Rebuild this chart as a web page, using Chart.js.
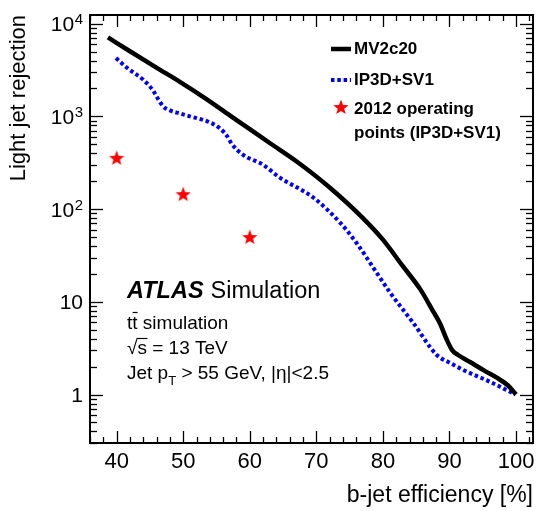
<!DOCTYPE html>
<html>
<head>
<meta charset="utf-8">
<script src="https://cdn.jsdelivr.net/npm/chart.js@4.4.1/dist/chart.umd.min.js"></script>
<style>
  html, body { margin: 0; padding: 0; background: #fff; }
  #wrap { width: 536px; height: 511px; }
</style>
</head>
<body>
<div id="wrap"><canvas id="c" width="536" height="511"></canvas></div>
<script>
// ---- data ----
const mv2c20Eff = [38.7, 42.0, 46.1, 49.5, 53.6, 57.0, 60.0, 63.0, 67.1, 72.0, 77.0, 80.0, 83.0, 85.6, 87.5, 88.6, 89.5, 90.4, 91.3, 93.1, 95.3, 97.1, 98.8, 100.0];
const mv2c20Rej = [7100, 5040, 3320, 2360, 1520, 1025, 728, 516, 324, 171, 80, 46.8, 24.2, 13.7, 8.0, 5.8, 4.04, 3.01, 2.67, 2.24, 1.80, 1.52, 1.25, 1.0];

const ip3dEff = [39.9, 41.6, 44.0, 45.5, 46.2, 47.0, 48.0, 49.5, 51.0, 53.6, 55.5, 56.6, 57.3, 59.0, 62.0, 64.5, 69.5, 73.6, 76.1, 79.1, 81.1, 84.5, 88.1, 90.1, 92.0, 96.1, 99.9];
const ip3dRej = [4250, 3320, 2480, 1890, 1550, 1280, 1160, 1075, 1000, 885, 745, 612, 504, 385, 301, 219, 134, 71, 42.5, 20.4, 12.5, 6.0, 2.67, 2.19, 1.85, 1.37, 1.0];

const opPointEff = [40, 50, 60];
const opPointRej = [357, 145, 50];

const seriesNames = ['MV2c20', 'IP3D+SV1', '2012 operating', 'points (IP3D+SV1)'];
const xTickValues = [40, 50, 60, 70, 80, 90, 100];
const yTickValues = [1, 10, 100, 1000, 10000];
const yTickLabels = ['1', '10', '10^2', '10^3', '10^4'];
const xTitle = 'b-jet efficiency [%]';
const yTitle = 'Light jet rejection';

const FONT = '"Liberation Sans", Arial, Helvetica, sans-serif';

const toXY = (xs, ys) => xs.map((v, i) => ({ x: v, y: ys[i] }));

// filled five-point star used as point style
function makeStar(size, color) {
  const c = document.createElement('canvas');
  c.width = size; c.height = size;
  const g = c.getContext('2d');
  const cx = size / 2, cy = size / 2 + 0.6, R = size / 2, r = R * 0.42;
  g.beginPath();
  for (let i = 0; i < 10; i++) {
    const rad = i % 2 === 0 ? R : r;
    const a = -Math.PI / 2 + i * Math.PI / 5;
    const px = cx + rad * Math.cos(a), py = cy + rad * Math.sin(a);
    if (i === 0) g.moveTo(px, py); else g.lineTo(px, py);
  }
  g.closePath();
  g.fillStyle = color;
  g.fill();
  return c;
}
const starImg = makeStar(16, '#ff0000');

const framePlugin = {
  id: 'framePlugin',
  afterDatasetsDraw(chart) {
    const { ctx, chartArea: a, scales: { x, y } } = chart;
    ctx.save();
    ctx.strokeStyle = '#000';
    ctx.lineWidth = 1.3;
    const seg = (x1, y1, x2, y2) => { ctx.beginPath(); ctx.moveTo(x1, y1); ctx.lineTo(x2, y2); ctx.stroke(); };
    // x ticks (major every 10, minor every 2), bottom and top
    for (let v = Math.ceil(x.min / 2) * 2; v <= x.max; v += 2) {
      const px = Math.round(x.getPixelForValue(v)) + 0.5;
      const len = v % 10 === 0 ? 12 : 6;
      seg(px, a.bottom, px, a.bottom - len);
      seg(px, a.top, px, a.top + len);
    }
    // y ticks (log), left and right
    for (let e = -1; e <= 4; e++) {
      for (let m = 1; m <= 9; m++) {
        const v = m * Math.pow(10, e);
        if (v < y.min || v > y.max) continue;
        const py = Math.round(y.getPixelForValue(v)) + 0.5;
        const len = m === 1 ? 13 : 7;
        seg(a.left, py, a.left + len, py);
        seg(a.right, py, a.right - len, py);
      }
    }
    ctx.lineWidth = 2;
    ctx.strokeRect(a.left, a.top, a.right - a.left, a.bottom - a.top);
    ctx.restore();
  },
  afterDraw(chart) {
    const { ctx, scales: { y } } = chart;
    ctx.save();
    ctx.fillStyle = '#000';
    // y tick labels with superscript exponents
    yTickValues.forEach((v, i) => {
      const py = y.getPixelForValue(v);
      const parts = yTickLabels[i].split('^');
      const right = 83;
      ctx.textBaseline = 'alphabetic';
      if (parts.length === 2) {
        ctx.font = '15px ' + FONT;
        const ew = ctx.measureText(parts[1]).width;
        ctx.textAlign = 'right';
        ctx.fillText(parts[1], right, py + 0.5);
        ctx.font = '21px ' + FONT;
        ctx.fillText(parts[0], right - ew - 0.5, py + 7.5);
      } else {
        ctx.font = '21px ' + FONT;
        ctx.textAlign = 'right';
        ctx.fillText(parts[0], right, py + 7.5);
      }
    });

    // ATLAS label block
    ctx.textAlign = 'left';
    ctx.textBaseline = 'alphabetic';
    let x0 = 127;
    ctx.font = 'italic bold 23.5px ' + FONT;
    ctx.fillText('ATLAS', x0, 298);
    const aw = ctx.measureText('ATLAS').width;
    ctx.font = '23.5px ' + FONT;
    ctx.fillText('Simulation', x0 + aw + 7, 298);

    const fs = 19;
    ctx.font = fs + 'px ' + FONT;
    ctx.lineWidth = 1.2;
    ctx.strokeStyle = '#000';
    // t t-bar simulation
    let b = 329;
    ctx.fillText('tt simulation', x0, b);
    const tw = ctx.measureText('t').width;
    ctx.beginPath();
    ctx.moveTo(x0 + tw + 0.3, b - 16.5);
    ctx.lineTo(x0 + 2 * tw, b - 16.5);
    ctx.stroke();
    // sqrt(s) = 13 TeV
    b = 354;
    ctx.fillText('\u221A', x0, b);
    const rw = ctx.measureText('\u221A').width;
    ctx.fillText('s = 13 TeV', x0 + rw, b);
    const sw = ctx.measureText('s').width;
    ctx.beginPath();
    ctx.moveTo(x0 + rw - 1, b - 15.5);
    ctx.lineTo(x0 + rw + sw + 0.5, b - 15.5);
    ctx.stroke();
    // Jet pT > 55 GeV, |eta|<2.5
    b = 379;
    ctx.fillText('Jet p', x0, b);
    let xx = x0 + ctx.measureText('Jet p').width;
    ctx.font = '13px ' + FONT;
    ctx.fillText('T', xx, b + 6);
    xx += ctx.measureText('T').width;
    ctx.font = fs + 'px ' + FONT;
    ctx.fillText(' > 55 GeV, |\u03B7|<2.5', xx, b);

    // legend
    const ds = chart.data.datasets;
    const lx = 331, lx2 = 351, tx = 354;
    ctx.font = 'bold 17px ' + FONT;
    ctx.textBaseline = 'middle';
    // MV2c20
    ctx.strokeStyle = ds[0].borderColor;
    ctx.lineWidth = ds[0].borderWidth;
    ctx.setLineDash([]);
    ctx.beginPath(); ctx.moveTo(lx, 49); ctx.lineTo(lx2, 49); ctx.stroke();
    ctx.fillStyle = '#000';
    ctx.fillText(ds[0].label, tx, 49);
    // IP3D+SV1
    ctx.strokeStyle = ds[1].borderColor;
    ctx.lineWidth = ds[1].borderWidth;
    ctx.setLineDash(ds[1].borderDash);
    ctx.beginPath(); ctx.moveTo(lx, 80); ctx.lineTo(lx2, 80); ctx.stroke();
    ctx.setLineDash([]);
    ctx.fillText(ds[1].label, tx, 80);
    // operating points
    ctx.drawImage(starImg, 341 - 8, 107 - 8);
    ctx.fillText(seriesNames[2], tx, 109);
    ctx.fillText(seriesNames[3], tx, 133);
    ctx.restore();
  }
};

new Chart(document.getElementById('c'), {
  type: 'line',
  data: {
    datasets: [
      {
        label: seriesNames[0],
        data: toXY(mv2c20Eff, mv2c20Rej),
        borderColor: '#000000',
        borderWidth: 4.5,
        pointRadius: 0,
        fill: false,
        cubicInterpolationMode: 'monotone',
        order: 1
      },
      {
        label: seriesNames[1],
        data: toXY(ip3dEff, ip3dRej),
        borderColor: '#0000ff',
        borderWidth: 4,
        borderDash: [3.5, 2.8],
        borderCapStyle: 'butt',
        pointRadius: 0,
        fill: false,
        cubicInterpolationMode: 'monotone',
        order: 2
      },
      {
        label: seriesNames[2] + ' ' + seriesNames[3],
        data: toXY(opPointEff, opPointRej),
        showLine: false,
        pointStyle: starImg,
        pointRadius: 8,
        order: 0
      }
    ]
  },
  options: {
    responsive: false,
    animation: false,
    devicePixelRatio: 1,
    layout: { autoPadding: false, padding: { left: 0, right: 3, top: 15, bottom: 0 } },
    plugins: { legend: { display: false }, tooltip: { enabled: false } },
    scales: {
      x: {
        type: 'linear',
        min: 36,
        max: 102.55,
        grid: { display: false, drawTicks: false },
        border: { display: false },
        afterBuildTicks: (s) => { s.ticks = xTickValues.map(v => ({ value: v })); },
        afterFit: (s) => { s.height = 68; s.paddingLeft = 0; s.paddingRight = 0; },
        ticks: {
          autoSkip: false,
          maxRotation: 0,
          padding: 6,
          color: '#000',
          font: { family: FONT, size: 22 },
          callback: (v) => String(v)
        },
        title: {
          display: true,
          text: xTitle,
          align: 'end',
          color: '#000',
          font: { family: FONT, size: 23 },
          padding: { top: 0, bottom: 2 }
        }
      },
      y: {
        type: 'logarithmic',
        min: 0.349,
        max: 12400,
        grid: { display: false, drawTicks: false },
        border: { display: false },
        afterBuildTicks: (s) => { s.ticks = yTickValues.map(v => ({ value: v })); },
        afterFit: (s) => { s.width = 90; s.paddingTop = 0; s.paddingBottom = 0; },
        ticks: { display: false },
        title: {
          display: true,
          text: yTitle,
          align: 'end',
          color: '#000',
          font: { family: FONT, size: 22 },
          padding: { top: 6, bottom: 0 }
        }
      }
    }
  },
  plugins: [framePlugin]
});
</script>
</body>
</html>
